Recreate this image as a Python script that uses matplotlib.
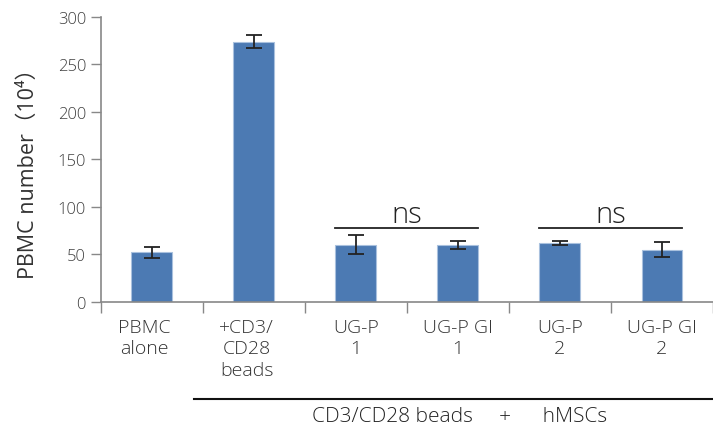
import matplotlib
matplotlib.use("Agg")
import matplotlib.pyplot as plt
import matplotlib.transforms as mtransforms
import numpy as np

plt.rcParams['font.family'] = ['Open Sans', 'Noto Sans CJK JP', 'DejaVu Sans']
plt.rcParams['font.weight'] = 'light'

categories = ['PBMC\nalone', '+CD3/\nCD28\nbeads', 'UG-P\n1', 'UG-P GI\n1', 'UG-P\n2', 'UG-P GI\n2']
values = [52, 274, 60, 60, 62, 55]
errors = [6, 7, 10, 4.5, 2.5, 7.5]
yticks = [0, 50, 100, 150, 200, 250, 300]
ns_pairs = [(2, 3), (4, 5)]
ns_height = 78
ylabel = 'PBMC number（10⁴）'
group_label = 'CD3/CD28 beads　 +　  hMSCs'

label_shift_px = [-7, -7, 0, 0, 0, 0]

fig = plt.figure(figsize=(7.13, 4.27), dpi=100)
ax = fig.add_axes([0.141, 0.291, 0.859, 0.667])

x = np.arange(len(categories))
ax.bar(x, values, width=0.4, color='#4C7AB3', edgecolor='#A9C1DE', linewidth=0.8, zorder=2)
ax.errorbar(x, values, yerr=errors, fmt='none', ecolor='#222222', elinewidth=1.3,
            capsize=5.5, capthick=1.3, zorder=3)

ax.set_xlim(-0.5, len(categories) - 0.5)
ax.set_ylim(0, 300)
ax.set_yticks(yticks)
ax.tick_params(axis='y', direction='out', length=7.5, width=1, color='#888888',
               labelsize=12, labelcolor='#404040', pad=3)

ax.set_xticks(x)
ax.set_xticklabels(categories, fontsize=14, color='#333333', linespacing=1.22)
ax.set_xticks(np.arange(-0.5, len(categories)), minor=True)
ax.tick_params(axis='x', which='major', length=0, pad=12)
ax.tick_params(axis='x', which='minor', direction='out', length=8, width=1, color='#888888')
for lab, dx in zip(ax.get_xticklabels(), label_shift_px):
    lab.set_transform(lab.get_transform() +
                      mtransforms.ScaledTranslation(dx / 100, 0, fig.dpi_scale_trans))

for s in ['top', 'right']:
    ax.spines[s].set_visible(False)
for s in ['left', 'bottom']:
    ax.spines[s].set_color('#888888')
    ax.spines[s].set_linewidth(1.2)

ax.set_ylabel(ylabel, fontsize=15.5, color='#333333', labelpad=6)
ax.yaxis.set_label_coords(-0.1, 0.47)

for a, b in ns_pairs:
    ax.plot([a - 0.2, b + 0.2], [ns_height, ns_height], color='#222222', lw=1.3, zorder=3)
    ax.text((a + b) / 2, ns_height + 6, 'ns', ha='center', va='baseline',
            fontsize=21, color='#222222')

ax.plot([0.153, 1.0], [-0.342, -0.342], transform=ax.transAxes, color='#111111',
        lw=1.5, clip_on=False)
ax.text(0.587, -0.40, group_label, transform=ax.transAxes, ha='center', va='center',
        fontsize=15, color='#222222')

fig.savefig('out.png', dpi=100)
